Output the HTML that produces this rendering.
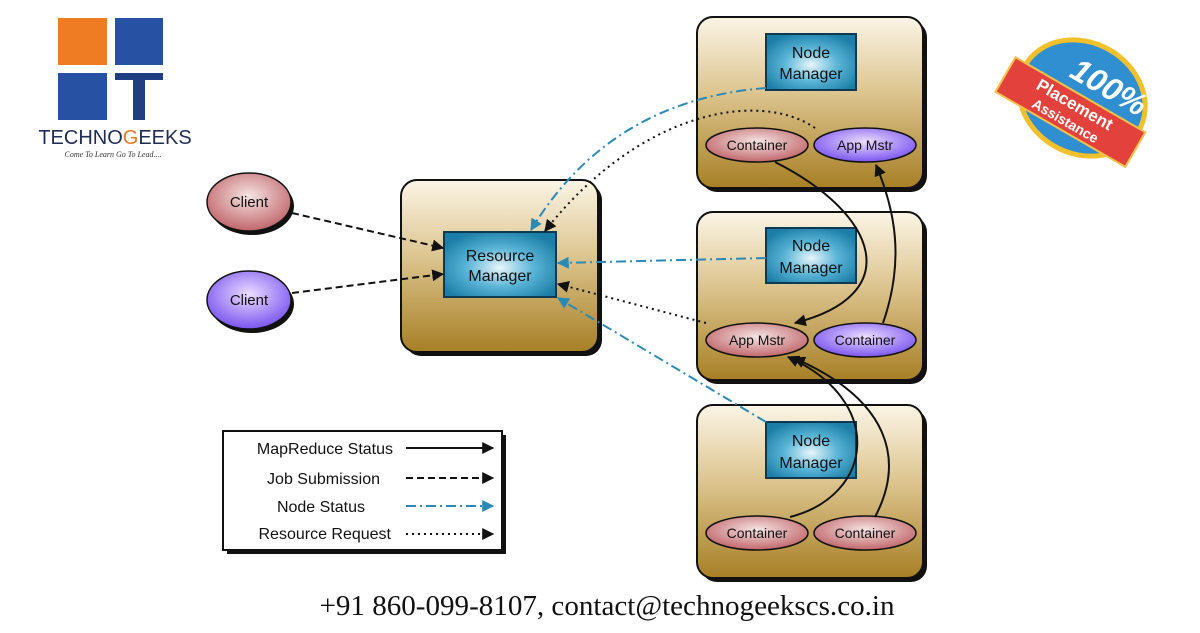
<!DOCTYPE html>
<html><head><meta charset="utf-8"><style>
body{margin:0;background:#fff;width:1200px;height:628px;overflow:hidden;font-family:"Liberation Sans",sans-serif}
</style></head><body>
<svg width="1200" height="628" viewBox="0 0 1200 628" xmlns="http://www.w3.org/2000/svg" font-family="Liberation Sans, sans-serif">
<defs>
<linearGradient id="gold" x1="0" y1="0" x2="0" y2="1"><stop offset="0" stop-color="#fbf5e6"/><stop offset="0.45" stop-color="#dcc48e"/><stop offset="1" stop-color="#a77f25"/></linearGradient>
<radialGradient id="blue" cx="0.5" cy="0.55" r="0.6"><stop offset="0" stop-color="#e8f6fb"/><stop offset="0.5" stop-color="#59b4d6"/><stop offset="1" stop-color="#1c7ea6"/></radialGradient>
<radialGradient id="red" cx="0.5" cy="0.4" r="0.6"><stop offset="0" stop-color="#f6e4e4"/><stop offset="1" stop-color="#c0666a"/></radialGradient>
<radialGradient id="purp" cx="0.5" cy="0.4" r="0.6"><stop offset="0" stop-color="#ecdcff"/><stop offset="1" stop-color="#7a55f0"/></radialGradient>
<marker id="ak" viewBox="0 0 10 10" refX="9" refY="5" markerWidth="12" markerHeight="12" markerUnits="userSpaceOnUse" orient="auto"><path d="M0,0L10,5L0,10z" fill="#111"/></marker>
<marker id="ab" viewBox="0 0 10 10" refX="9" refY="5" markerWidth="12" markerHeight="12" markerUnits="userSpaceOnUse" orient="auto"><path d="M0,0L10,5L0,10z" fill="#2a8ab5"/></marker>
</defs>

<!-- logo -->
<rect x="58" y="18" width="49" height="47" fill="#ef7b22"/>
<rect x="115" y="18" width="48" height="47" fill="#2752a3"/>
<rect x="58" y="73" width="49" height="47" fill="#2752a3"/>
<rect x="115" y="73" width="48" height="7" fill="#1f3f82"/>
<rect x="133" y="80" width="12" height="40" fill="#1f3f82"/>
<text x="115" y="144" text-anchor="middle" font-size="20" fill="#1f2d55">TECHNO<tspan fill="#e87722">G</tspan>EEKS</text>
<text x="113" y="157" text-anchor="middle" font-size="8" font-style="italic" font-family="Liberation Serif, serif" fill="#333">Come To Learn Go To Lead....</text>

<!-- badge -->
<g transform="translate(1082,98) rotate(30)">
<ellipse cx="0" cy="0" rx="68" ry="58" fill="#f2c02a"/>
<ellipse cx="0" cy="0" rx="63" ry="53" fill="#2f8fd1"/>
<text x="18" y="-12" text-anchor="middle" font-size="32" font-weight="bold" fill="#fff" font-style="italic">100%</text>
<rect x="-78" y="-2" width="150" height="40" fill="#e3413c" stroke="#f5c24a" stroke-width="2"/>
<text x="-3" y="15" text-anchor="middle" font-size="17" font-weight="bold" fill="#fff">Placement</text>
<text x="-3" y="33" text-anchor="middle" font-size="14" font-weight="bold" fill="#fff">Assistance</text>
</g>

<!-- RM box -->
<rect x="405" y="184" width="197" height="172" rx="16" fill="#111"/>
<rect x="401" y="180" width="197" height="172" rx="16" fill="url(#gold)" stroke="#111" stroke-width="2"/>
<rect x="444" y="232" width="112" height="65" fill="url(#blue)" stroke="#0d3a52" stroke-width="2"/>
<text x="500" y="261" text-anchor="middle" font-size="16" fill="#111">Resource</text>
<text x="500" y="281" text-anchor="middle" font-size="16" fill="#111">Manager</text>

<!-- node boxes -->
<g>
<rect x="701" y="21" width="226" height="171" rx="16" fill="#111"/>
<rect x="697" y="17" width="226" height="171" rx="16" fill="url(#gold)" stroke="#111" stroke-width="2"/>
<rect x="766" y="34" width="90" height="56" fill="url(#blue)" stroke="#0d3a52" stroke-width="2"/>
<text x="811" y="58" text-anchor="middle" font-size="16" fill="#111">Node</text>
<text x="811" y="79" text-anchor="middle" font-size="16" fill="#111">Manager</text>
<ellipse cx="757" cy="145" rx="51" ry="17" fill="url(#red)" stroke="#111" stroke-width="1.5"/>
<text x="757" y="150" text-anchor="middle" font-size="14" fill="#111">Container</text>
<ellipse cx="865" cy="145" rx="51" ry="17" fill="url(#purp)" stroke="#111" stroke-width="1.5"/>
<text x="865" y="150" text-anchor="middle" font-size="14" fill="#111">App Mstr</text>
</g>
<g>
<rect x="701" y="216" width="226" height="168" rx="16" fill="#111"/>
<rect x="697" y="212" width="226" height="168" rx="16" fill="url(#gold)" stroke="#111" stroke-width="2"/>
<rect x="766" y="228" width="90" height="55" fill="url(#blue)" stroke="#0d3a52" stroke-width="2"/>
<text x="811" y="251" text-anchor="middle" font-size="16" fill="#111">Node</text>
<text x="811" y="273" text-anchor="middle" font-size="16" fill="#111">Manager</text>
<ellipse cx="757" cy="340" rx="51" ry="17" fill="url(#red)" stroke="#111" stroke-width="1.5"/>
<text x="757" y="345" text-anchor="middle" font-size="14" fill="#111">App Mstr</text>
<ellipse cx="865" cy="340" rx="51" ry="17" fill="url(#purp)" stroke="#111" stroke-width="1.5"/>
<text x="865" y="345" text-anchor="middle" font-size="14" fill="#111">Container</text>
</g>
<g>
<rect x="701" y="409" width="226" height="173" rx="16" fill="#111"/>
<rect x="697" y="405" width="226" height="173" rx="16" fill="url(#gold)" stroke="#111" stroke-width="2"/>
<rect x="766" y="422" width="90" height="56" fill="url(#blue)" stroke="#0d3a52" stroke-width="2"/>
<text x="811" y="446" text-anchor="middle" font-size="16" fill="#111">Node</text>
<text x="811" y="468" text-anchor="middle" font-size="16" fill="#111">Manager</text>
<ellipse cx="757" cy="533" rx="51" ry="17" fill="url(#red)" stroke="#111" stroke-width="1.5"/>
<text x="757" y="538" text-anchor="middle" font-size="14" fill="#111">Container</text>
<ellipse cx="865" cy="533" rx="51" ry="17" fill="url(#red)" stroke="#111" stroke-width="1.5"/>
<text x="865" y="538" text-anchor="middle" font-size="14" fill="#111">Container</text>
</g>

<!-- clients -->
<ellipse cx="252" cy="206" rx="42" ry="29" fill="#111"/>
<ellipse cx="249" cy="202" rx="42" ry="29" fill="url(#red)" stroke="#111" stroke-width="1.5"/>
<text x="249" y="207" text-anchor="middle" font-size="15" fill="#111">Client</text>
<ellipse cx="252" cy="304" rx="42" ry="29" fill="#111"/>
<ellipse cx="249" cy="300" rx="42" ry="29" fill="url(#purp)" stroke="#111" stroke-width="1.5"/>
<text x="249" y="305" text-anchor="middle" font-size="15" fill="#111">Client</text>

<!-- connectors -->
<g fill="none" stroke-width="2">
<path d="M292,213 L443,248" stroke="#111" stroke-dasharray="7,4" marker-end="url(#ak)"/>
<path d="M292,293 L443,274" stroke="#111" stroke-dasharray="7,4" marker-end="url(#ak)"/>
<path d="M766,88 Q610,100 531,230" stroke="#2a8ab5" stroke-dasharray="10,4,2,4" marker-end="url(#ab)"/>
<path d="M815,128 C760,90 640,110 545,231" stroke="#111" stroke-dasharray="2,4" marker-end="url(#ak)"/>
<path d="M766,258 L558,263" stroke="#2a8ab5" stroke-dasharray="10,4,2,4" marker-end="url(#ab)"/>
<path d="M706,323 L558,284" stroke="#111" stroke-dasharray="2,4" marker-end="url(#ak)"/>
<path d="M766,422 L558,298" stroke="#2a8ab5" stroke-dasharray="10,4,2,4" marker-end="url(#ab)"/>
<path d="M775,162 C880,215 905,295 795,323" stroke="#111" marker-end="url(#ak)"/>
<path d="M883,323 C905,260 895,210 876,165" stroke="#111" marker-end="url(#ak)"/>
<path d="M790,517 C875,495 885,400 788,357" stroke="#111" marker-end="url(#ak)"/>
<path d="M875,517 C905,460 890,400 794,358" stroke="#111" marker-end="url(#ak)"/>
</g>

<!-- legend -->
<rect x="227" y="435" width="279" height="119" fill="#111"/>
<rect x="223" y="431" width="279" height="119" fill="#fff" stroke="#111" stroke-width="2"/>
<g font-size="16" fill="#111" text-anchor="end">
<text x="393" y="454">MapReduce Status</text>
<text x="380" y="484">Job Submission</text>
<text x="365" y="512">Node Status</text>
<text x="391" y="539">Resource Request</text>
</g>
<g fill="none" stroke-width="2">
<path d="M406,448 L493,448" stroke="#111" marker-end="url(#ak)"/>
<path d="M406,478 L493,478" stroke="#111" stroke-dasharray="7,4" marker-end="url(#ak)"/>
<path d="M406,506 L493,506" stroke="#2a8ab5" stroke-dasharray="10,4,2,4" marker-end="url(#ab)"/>
<path d="M406,534 L493,534" stroke="#111" stroke-dasharray="2,4" marker-end="url(#ak)"/>
</g>

<text x="607" y="615" text-anchor="middle" font-size="28" textLength="575" lengthAdjust="spacingAndGlyphs" font-family="Liberation Serif, serif" fill="#111">+91 860-099-8107, contact@technogeekscs.co.in</text>
</svg>
</body></html>
